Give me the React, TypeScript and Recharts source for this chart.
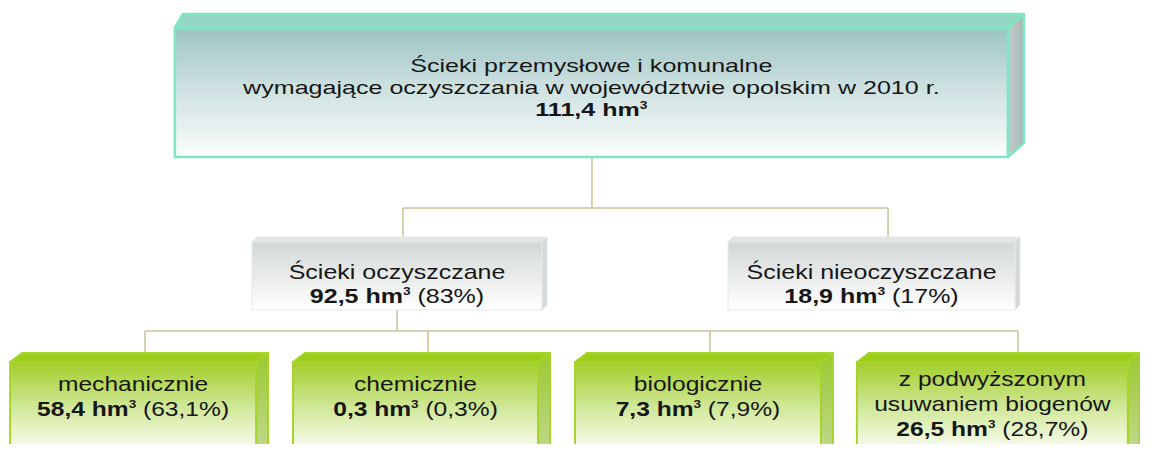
import { ScatterChart, Scatter, XAxis, YAxis, ReferenceLine } from 'recharts';

// --- data ---
const TOTAL_NAME = ['Ścieki przemysłowe i komunalne', 'wymagające oczyszczania w województwie opolskim w 2010 r.'];
const TOTAL_VALUE = 111.4;

const GROUP_NAMES = ['Ścieki oczyszczane', 'Ścieki nieoczyszczane'];
const GROUP_VALUES = [92.5, 18.9];
const GROUP_SHARES = [83, 17];

const METHOD_NAMES = [['mechanicznie'], ['chemicznie'], ['biologicznie'], ['z podwyższonym', 'usuwaniem biogenów']];
const METHOD_VALUES = [58.4, 0.3, 7.3, 26.5];
const METHOD_SHARES = [63.1, 0.3, 7.9, 28.7];

// --- layout (slot units on x, fraction of height on y) ---
const ROW_Y = [0.2046, 0.6106, 0.9226];
const TOTAL_X = 2.075;
const GROUP_X = [1.393, 3.058];
const METHOD_X = [0.467, 1.458, 2.449, 3.482];
const GROUP_W = [290, 287];
const METHOD_W = [246, 245, 246, 271];

const BAR_Y = [0.4602, 0.7323];
const TRUNK = { x: 2.077, y0: 0.3473 };
const GROUP_LINK_X = [1.414, 3.116];
const GROUP_TOP = 0.5243;
const CLEANED_DOWN = { x: 1.393, y0: 0.6858 };
const METHOD_LINK_X = [0.5088, 1.5018, 2.4912, 3.572];
const METHOD_TOP = 0.781;

const LINK = '#c9c59c';
const FONT = '"Liberation Sans", Arial, Helvetica, sans-serif';

const fmt = (v: number) => String(v).replace('.', ',');

const STYLE: Record<string, any> = {
  top: { h: 129, dx: 16, dxL: 8, dy: 14, face: 'url(#gTop)', topFill: '#93d6c4', side: 'url(#gTopSide)', border: '#7fe6c2', bw: 2.5,
    fs: 19, sx: 1.32, base: [-20, 2, 24] },
  mid: { h: 68, dx: 5, dxL: 5, dy: 5, face: 'url(#gMid)', topFill: '#e2e4e4', side: '#d4d8d8', border: '#e6e8e8', bw: 1,
    fs: 21, sx: 1.19, base: [3, 27] },
  leaf: { h: 110, dx: 12, dxL: 12, dy: 9, face: 'url(#gLeaf)', topFill: '#9ccc1c', side: 'url(#gLeafSide)', border: '#a6d42a', bw: 2,
    fs: 20.5, sx: 1.2, base2: [-26, -1], base3: [-31, -6, 19] },
};

const nodes: any[] = [
  { kind: 'top', x: TOTAL_X, y: ROW_Y[0], w: 833, lines: TOTAL_NAME, value: TOTAL_VALUE },
  ...GROUP_NAMES.map((n, i) => ({ kind: 'mid', x: GROUP_X[i], y: ROW_Y[1], w: GROUP_W[i], lines: [n], value: GROUP_VALUES[i], share: GROUP_SHARES[i] })),
  ...METHOD_NAMES.map((n, i) => ({ kind: 'leaf', x: METHOD_X[i], y: ROW_Y[2], w: METHOD_W[i], lines: n, value: METHOD_VALUES[i], share: METHOD_SHARES[i] })),
];

const NodeBox = (props: any) => {
  const { cx, cy, payload } = props;
  if (cx == null || cy == null) return null;
  const st = STYLE[payload.kind];
  const w = payload.w;
  const h = st.h;
  const fx = cx - w / 2;
  const fy = cy - h / 2;
  const { dx, dxL, dy, fs, sx } = st;
  const topPts = `${fx},${fy} ${fx + dxL},${fy - dy} ${fx + w + dx},${fy - dy} ${fx + w},${fy}`;
  const sidePts = `${fx + w},${fy} ${fx + w + dx},${fy - dy} ${fx + w + dx},${fy + h - dy} ${fx + w},${fy + h}`;
  const nLines = payload.lines.length + 1;
  const base: number[] = st.base || (nLines === 3 ? st.base3 : st.base2);
  const sup = fs * 0.55;
  const up = fs * 0.4;
  return (
    <g>
      <polygon points={topPts} fill={st.topFill} stroke={st.border} strokeWidth={st.bw} strokeLinejoin="round" />
      <polygon points={sidePts} fill={st.side} stroke={st.border} strokeWidth={st.bw} strokeLinejoin="round" />
      <rect x={fx} y={fy} width={w} height={h} fill={st.face} stroke={st.border} strokeWidth={st.bw} />
      <g transform={`translate(${cx},${cy}) scale(${sx},1)`} fontFamily={FONT} fill="#161616" fontSize={fs}>
        {payload.lines.map((t: string, i: number) => (
          <text key={i} x={0} y={base[i]} textAnchor="middle">{t}</text>
        ))}
        <text x={0} y={base[nLines - 1]} textAnchor="middle">
          <tspan fontWeight="bold">{fmt(payload.value)} hm</tspan>
          <tspan fontWeight="bold" fontSize={sup} dy={-up}>3</tspan>
          {payload.share != null && <tspan dy={up}>{` (${fmt(payload.share)}%)`}</tspan>}
        </text>
      </g>
    </g>
  );
};

const seg = (x0: number, y0: number, x1: number, y1: number, k: string) => (
  <ReferenceLine key={k} segment={[{ x: x0, y: y0 }, { x: x1, y: y1 }]} stroke={LINK} strokeWidth={1.6} ifOverflow="visible" />
);

export default function App() {
  return (
    <div style={{ margin: -8, width: 1155, height: 452, background: '#fff' }}>
      <ScatterChart width={1155} height={452} margin={{ top: 0, right: 15, bottom: 0, left: 0 }}>
        <defs>
          <linearGradient id="gTop" x1="0" y1="0" x2="0" y2="1">
            <stop offset="0%" stopColor="#9cc3c3" />
            <stop offset="45%" stopColor="#cde0e0" />
            <stop offset="100%" stopColor="#fbfdfd" />
          </linearGradient>
          <linearGradient id="gTopSide" x1="0" y1="0" x2="1" y2="0">
            <stop offset="0%" stopColor="#c4cccc" />
            <stop offset="100%" stopColor="#a9b6b6" />
          </linearGradient>
          <linearGradient id="gMid" x1="0" y1="0" x2="0" y2="1">
            <stop offset="0%" stopColor="#d3d7d7" />
            <stop offset="100%" stopColor="#ffffff" />
          </linearGradient>
          <linearGradient id="gLeaf" x1="0" y1="0" x2="0" y2="1">
            <stop offset="0%" stopColor="#a2ce28" />
            <stop offset="40%" stopColor="#cfe795" />
            <stop offset="80%" stopColor="#fafdf2" />
          </linearGradient>
          <linearGradient id="gLeafSide" x1="0" y1="0" x2="0" y2="1">
            <stop offset="0%" stopColor="#9cc830" />
            <stop offset="100%" stopColor="#c8dca0" />
          </linearGradient>
        </defs>
        <XAxis type="number" dataKey="x" domain={[0, 4]} allowDataOverflow hide />
        <YAxis type="number" dataKey="y" domain={[0, 1]} reversed allowDataOverflow hide />
        {seg(TRUNK.x, TRUNK.y0, TRUNK.x, BAR_Y[0], 'trunk')}
        {seg(GROUP_LINK_X[0], BAR_Y[0], GROUP_LINK_X[1], BAR_Y[0], 'bar1')}
        {GROUP_LINK_X.map((x, i) => seg(x, BAR_Y[0], x, GROUP_TOP, 'g' + i))}
        {seg(CLEANED_DOWN.x, CLEANED_DOWN.y0, CLEANED_DOWN.x, BAR_Y[1], 'down')}
        {seg(METHOD_LINK_X[0], BAR_Y[1], METHOD_LINK_X[3], BAR_Y[1], 'bar2')}
        {METHOD_LINK_X.map((x, i) => seg(x, BAR_Y[1], x, METHOD_TOP, 'm' + i))}
        <Scatter data={nodes} shape={(p: any) => <NodeBox {...p} />} isAnimationActive={false} />
      </ScatterChart>
    </div>
  );
}
